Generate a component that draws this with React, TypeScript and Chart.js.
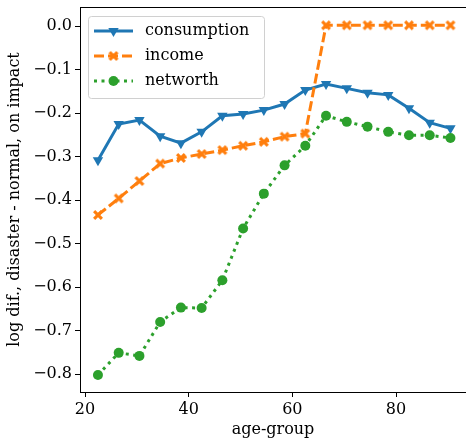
import React, { useEffect, useRef } from "react";
import { Chart, registerables } from "chart.js";

Chart.register(...registerables);

const ages = [22.5, 26.5, 30.5, 34.5, 38.5, 42.5, 46.5, 50.5, 54.5, 58.5, 62.5, 66.5, 70.5, 74.5, 78.5, 82.5, 86.5, 90.5];
const consumption = [-0.308, -0.225, -0.216, -0.253, -0.269, -0.243, -0.206, -0.202, -0.193, -0.179, -0.147, -0.133, -0.143, -0.153, -0.158, -0.189, -0.222, -0.235];
const income = [-0.434, -0.396, -0.356, -0.316, -0.303, -0.294, -0.285, -0.275, -0.266, -0.254, -0.247, 0.002, 0.002, 0.002, 0.002, 0.002, 0.002, 0.002];
const networth = [-0.802, -0.751, -0.758, -0.68, -0.647, -0.648, -0.584, -0.465, -0.385, -0.32, -0.275, -0.206, -0.22, -0.231, -0.243, -0.251, -0.251, -0.257];
const xTicks = [20, 40, 60, 80];
const yTicks = [-0.8, -0.7, -0.6, -0.5, -0.4, -0.3, -0.2, -0.1, 0.0];
const seriesNames = ["consumption", "income", "networth"];

const BLUE = "#1f77b4";
const ORANGE = "#ff7f0e";
const GREEN = "#2ca02c";
const FONT = "'DejaVu Serif', serif";

function makeX(color: string, size: number) {
  const c = document.createElement("canvas");
  c.width = size;
  c.height = size;
  const ctx = c.getContext("2d")!;
  ctx.translate(size / 2, size / 2);
  const r = size / 2 - 0.5;
  const w = r * 0.55;
  ctx.fillStyle = color;
  for (const a of [Math.PI / 4, -Math.PI / 4]) {
    ctx.save();
    ctx.rotate(a);
    ctx.fillRect(-r, -w / 2, 2 * r, w);
    ctx.restore();
  }
  return c;
}

function toPts(ys: number[]) {
  return ages.map((x, i) => ({ x, y: ys[i] }));
}

function zeroPad(s: any) {
  s.paddingTop = 0;
  s.paddingBottom = 0;
  s.paddingLeft = 0;
  s.paddingRight = 0;
}

export default function App() {
  const ref = useRef<HTMLCanvasElement>(null);
  useEffect(() => {
    document.body.style.margin = "0";
    const xImg = makeX(ORANGE, 12);
    const frame = {
      id: "frame",
      afterDraw(chart: any) {
        const { ctx, chartArea: a } = chart;
        ctx.save();
        ctx.strokeStyle = "#000";
        ctx.lineWidth = 1;
        ctx.beginPath();
        ctx.moveTo(Math.round(a.left), Math.round(a.top) + 0.5);
        ctx.lineTo(chart.width, Math.round(a.top) + 0.5);
        ctx.stroke();
        // legend
        const bx = 88, by = 16, bw = 176, bh = 82;
        ctx.beginPath();
        ctx.roundRect(bx + 0.5, by + 0.5, bw, bh, 3);
        ctx.fillStyle = "rgba(255,255,255,0.8)";
        ctx.fill();
        ctx.strokeStyle = "#d0d0d0";
        ctx.stroke();
        const rows = [31, 56, 81];
        const colors = [BLUE, ORANGE, GREEN];
        const dashes = [[], [10, 4], [3, 4.5]];
        rows.forEach((ry, i) => {
          ctx.save();
          ctx.strokeStyle = colors[i];
          ctx.lineWidth = 3;
          ctx.setLineDash(dashes[i]);
          ctx.beginPath();
          ctx.moveTo(94, ry);
          ctx.lineTo(133, ry);
          ctx.stroke();
          ctx.restore();
          const cx = 113.5;
          ctx.fillStyle = colors[i];
          if (i === 0) {
            const r = 6;
            ctx.beginPath();
            ctx.moveTo(cx, ry + r);
            ctx.lineTo(cx - r * 0.866, ry - r / 2);
            ctx.lineTo(cx + r * 0.866, ry - r / 2);
            ctx.closePath();
            ctx.fill();
          } else if (i === 1) {
            ctx.drawImage(xImg, cx - 6, ry - 6);
          } else {
            ctx.beginPath();
            ctx.arc(cx, ry, 5, 0, Math.PI * 2);
            ctx.fill();
          }
          ctx.fillStyle = "#000";
          ctx.font = "16px " + FONT;
          ctx.textBaseline = "middle";
          ctx.textAlign = "left";
          ctx.fillText(seriesNames[i], 145, ry);
        });
        ctx.restore();
      },
    };
    const chart = new Chart(ref.current!, {
      type: "line",
      data: {
        datasets: [
          {
            label: seriesNames[0],
            data: toPts(consumption),
            borderColor: BLUE,
            backgroundColor: BLUE,
            borderWidth: 3,
            pointStyle: "triangle",
            rotation: 180,
            pointRadius: 6,
            pointBorderWidth: 0,
            order: 2,
          },
          {
            label: seriesNames[1],
            data: toPts(income),
            borderColor: ORANGE,
            backgroundColor: ORANGE,
            borderWidth: 3,
            borderDash: [10, 4],
            pointStyle: xImg as any,
            pointRadius: 6,
            order: 1,
          },
          {
            label: seriesNames[2],
            data: toPts(networth),
            borderColor: GREEN,
            backgroundColor: GREEN,
            borderWidth: 3,
            borderDash: [3, 4.5],
            pointStyle: "circle",
            pointRadius: 5,
            pointBorderWidth: 0,
            order: 0,
          },
        ],
      },
      options: {
        animation: false,
        responsive: false,
        layout: { autoPadding: false, padding: { top: 7, right: 0, left: 0, bottom: 0 } },
        plugins: { legend: { display: false }, tooltip: { enabled: false } },
        scales: {
          x: {
            type: "linear",
            min: 19.035,
            max: 93.5,
            afterBuildTicks: (s: any) => {
              s.ticks = xTicks.map((v) => ({ value: v }));
            },
            afterFit: (s: any) => {
              s.height = 48;
              zeroPad(s);
            },
            grid: { drawOnChartArea: false, drawTicks: true, tickLength: 5, color: "#000" },
            border: { display: true, color: "#000" },
            ticks: { color: "#000", font: { family: FONT, size: 16 }, padding: 3, maxRotation: 0, callback: (v: any) => String(v) },
            title: { display: true, text: "age-group", color: "#000", font: { family: FONT, size: 16 }, padding: { top: 0, bottom: 1 } },
          },
          y: {
            type: "linear",
            min: -0.841,
            max: 0.044,
            afterBuildTicks: (s: any) => {
              s.ticks = yTicks.map((v) => ({ value: v }));
            },
            afterFit: (s: any) => {
              s.width = 80;
              zeroPad(s);
            },
            grid: { drawOnChartArea: false, drawTicks: true, tickLength: 5, color: "#000" },
            border: { display: true, color: "#000" },
            ticks: {
              color: "#000",
              font: { family: FONT, size: 16 },
              padding: 3,
              callback: (v: any) => (v < -1e-9 ? "\u2212" : "") + Math.abs(v).toFixed(1),
            },
            title: { display: true, text: "log dif., disaster - normal, on impact", color: "#000", font: { family: FONT, size: 16 }, padding: { top: 5, bottom: 0 } },
          },
        },
      },
      plugins: [frame],
    });
    return () => chart.destroy();
  }, []);
  return (
    <div style={{ width: 466, height: 440 }}>
      <canvas ref={ref} width={466} height={440} />
    </div>
  );
}
